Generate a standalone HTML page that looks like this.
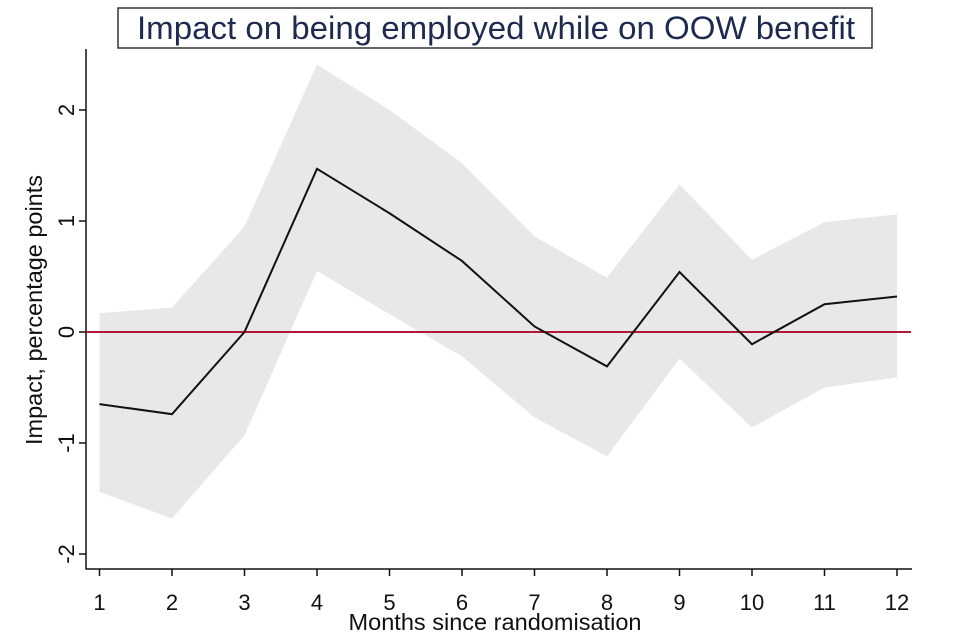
<!DOCTYPE html>
<html><head><meta charset="utf-8"><style>
html,body{margin:0;padding:0;background:#fff;}
svg{display:block;font-family:"Liberation Sans",Arial,sans-serif;}
</style></head><body>
<svg id="chart" width="960" height="640" viewBox="0 0 960 640">
<rect x="118" y="8" width="754" height="40" fill="#fff" stroke="#333" stroke-width="1.5"/>
<text x="496" y="39" text-anchor="middle" font-size="32.5" textLength="718" lengthAdjust="spacingAndGlyphs" fill="#1f2a4f">Impact on being employed while on OOW benefit</text>
<g id="band"></g>
<g id="axes"></g>
<g id="series"></g>
<text x="495" y="630" text-anchor="middle" font-size="23" textLength="293" lengthAdjust="spacingAndGlyphs" fill="#111">Months since randomisation</text>
<text transform="translate(42,310) rotate(-90)" text-anchor="middle" font-size="23" textLength="270" lengthAdjust="spacingAndGlyphs" fill="#111">Impact, percentage points</text>
</svg>
<script>
const months = [1,2,3,4,5,6,7,8,9,10,11,12];
const impact = [-0.65,-0.74,0.0,1.47,1.07,0.64,0.05,-0.31,0.54,-0.11,0.25,0.32];
const upper = [0.17,0.22,0.95,2.41,2.0,1.52,0.86,0.49,1.33,0.65,0.99,1.06];
const lower = [-1.44,-1.68,-0.93,0.55,0.16,-0.22,-0.77,-1.12,-0.24,-0.86,-0.5,-0.41];
const yTicks = [-2,-1,0,1,2];
const xTicks = [1,2,3,4,5,6,7,8,9,10,11,12];

const NS='http://www.w3.org/2000/svg';
function xs(m){return 99.5+(m-1)*72.5;}
function ys(v){return 332-v*111;}
function mk(tag,attrs,parent){const e=document.createElementNS(NS,tag);for(const k in attrs)e.setAttribute(k,attrs[k]);parent.appendChild(e);return e;}
const band=document.getElementById('band'),axes=document.getElementById('axes'),series=document.getElementById('series');

let pts=months.map((m,i)=>xs(m)+','+ys(upper[i]));
for(let i=months.length-1;i>=0;i--)pts.push(xs(months[i])+','+ys(lower[i]));
const poly=mk('polygon',{points:pts.join(' '),fill:'#e8e8e8'},band);



const zl=mk('line',{x1:86,x2:911,y1:ys(0),y2:ys(0),stroke:'#b0193a','stroke-width':2},series);



const ln=mk('polyline',{points:months.map((m,i)=>xs(m)+','+ys(impact[i])).join(' '),fill:'none',stroke:'#111','stroke-width':2,'stroke-linejoin':'miter'},series);



const ya=mk('line',{x1:86,x2:86,y1:49,y2:569,stroke:'#111','stroke-width':1.5},axes);


const xa=mk('line',{x1:85.5,x2:912,y1:569,y2:569,stroke:'#111','stroke-width':1.5},axes);



yTicks.forEach(v=>{
  const y=ys(v);
  const t=mk('line',{x1:79,x2:86,y1:y,y2:y,stroke:'#111','stroke-width':1.5},axes);
  
  
  const tx=mk('text',{transform:`translate(74,${y}) rotate(-90)`,'text-anchor':'middle','font-size':22,fill:'#111'},axes);
  tx.textContent=String(v);
  
  
});
xTicks.forEach(m=>{
  const x=xs(m);
  const t=mk('line',{x1:x,x2:x,y1:569,y2:576,stroke:'#111','stroke-width':1.5},axes);
  
  
  const tx=mk('text',{x:x,y:610,'text-anchor':'middle','font-size':22,fill:'#111'},axes);
  tx.textContent=String(m);
  
  
});
</script>
</body></html>
